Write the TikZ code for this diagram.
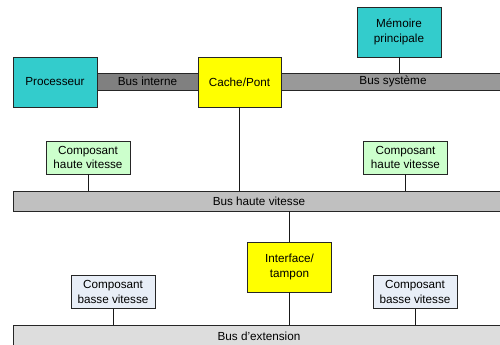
\documentclass[tikz,border=0pt]{standalone}
\usepackage{fontspec}
\setmainfont{Liberation Sans}
\usepackage{tikz}
\usetikzlibrary{calc,positioning}

\definecolor{cpucyan}{HTML}{33CCCC}
\definecolor{bridgeyellow}{HTML}{FFFF00}
\definecolor{hvgreen}{HTML}{CCFFCC}
\definecolor{bvblue}{HTML}{E8EEF7}
\definecolor{intgray}{HTML}{808080}
\definecolor{sysgray}{HTML}{999999}
\definecolor{hvgray}{HTML}{C0C0C0}
\definecolor{extgray}{HTML}{DDDDDD}

\tikzset{
  unit/.style={draw=black!85, line width=0.7pt, align=center, inner sep=1pt,
    font=\fontsize{10}{12.5}\selectfont, minimum width=2.52cm},
  bigunit/.style={unit, minimum height=1.5cm},
  smallunit/.style={unit, minimum height=0.99cm},
  bus/.style={draw=black!85, line width=0.7pt, inner sep=0pt,
    font=\fontsize{10}{12}\selectfont},
  link/.style={line width=0.7pt, black!90}
}

\begin{document}
\begin{tikzpicture}[x=0.03cm, y=-0.03cm]

\useasboundingbox (0,0) rectangle (500,345);

% buses
\node[bus, fill=intgray, minimum width=3.03cm, minimum height=0.51cm] (busint) at (147.5,81.5) {Bus interne};
\node[bus, fill=sysgray, minimum width=6.72cm, minimum height=0.51cm] (bussys) at (393,81.5) {Bus système};
\node[bus, fill=hvgray, minimum width=14.76cm, minimum height=0.6cm] (bushv) at (259,201) {Bus haute vitesse};
\node[bus, fill=extgray, minimum width=14.76cm, minimum height=0.66cm] (busext) at (259,336) {Bus d'extension};

% units
\node[bigunit, fill=cpucyan] (cpu) at (55,82) {Processeur};
\node[bigunit, fill=bridgeyellow, minimum width=2.49cm] (cache) at (239.5,82) {Cache/Pont};
\node[bigunit, fill=cpucyan] (mem) at (399,32) {Mémoire\\principale};
\node[bigunit, fill=bridgeyellow] (iface) at (289.5,267) {Interface/\\tampon};

\node[smallunit, fill=hvgreen] (hvleft) at (88,157.5) {Composant\\haute vitesse};
\node[smallunit, fill=hvgreen] (hvright) at (405.5,157.5) {Composant\\haute vitesse};
\node[smallunit, fill=bvblue] (bvleft) at (113,292) {Composant\\basse vitesse};
\node[smallunit, fill=bvblue] (bvright) at (415,292) {Composant\\basse vitesse};

% links
\draw[link] (mem.south) -- (mem.south |- bussys.north);
\draw[link] (cache.south) -- (cache.south |- bushv.north);
\draw[link] (hvleft.south) -- (hvleft.south |- bushv.north);
\draw[link] (hvright.south) -- (hvright.south |- bushv.north);
\draw[link] (iface.north |- bushv.south) -- (iface.north);
\draw[link] (iface.south) -- (iface.south |- busext.north);
\draw[link] (bvleft.south) -- (bvleft.south |- busext.north);
\draw[link] (bvright.south) -- (bvright.south |- busext.north);

\end{tikzpicture}
\end{document}
